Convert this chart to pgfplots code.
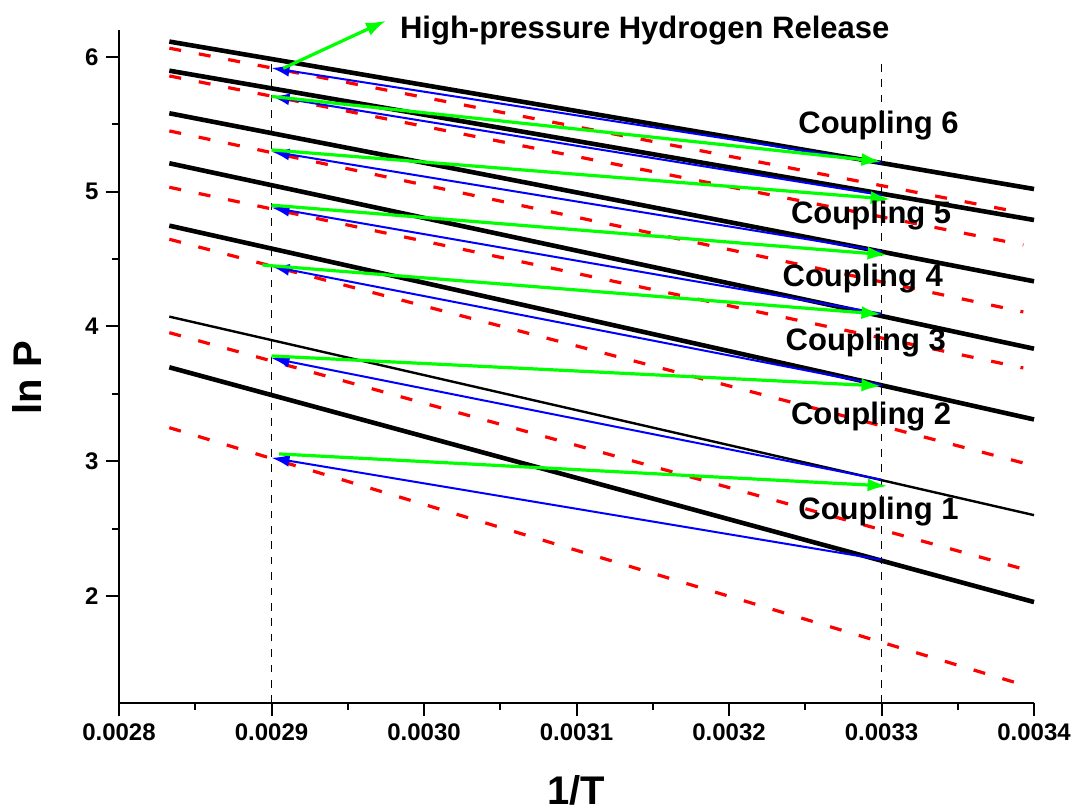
\documentclass[border=0pt]{standalone}
\usepackage{pgfplots}
\pgfplotsset{compat=1.18}
\usepackage{fontspec}
\setmainfont{Liberation Sans}
\usetikzlibrary{arrows.meta}
\definecolor{pgreen}{RGB}{0,255,0}
\definecolor{pred}{RGB}{255,0,0}
\definecolor{pblue}{RGB}{0,0,255}
\begin{document}
\begin{tikzpicture}
\useasboundingbox (-59.5pt,-54.5pt) rectangle (481pt,351.5pt);
\begin{axis}[
  at={(0,0)}, anchor=south west,
  scale only axis, width=457.5pt, height=336.5pt,
  xmin=0.0028, xmax=0.0034, ymin=1.206, ymax=6.2,
  axis x line*=bottom, axis y line*=left,
  axis line style={line width=1pt},
  clip=false,
  scaled x ticks=false,
  xtick={0.0028,0.0029,0.0030,0.0031,0.0032,0.0033,0.0034},
  xticklabels={0.0028,0.0029,0.0030,0.0031,0.0032,0.0033,0.0034},
  ytick={2,3,4,5,6},
  yticklabels={2,3,4,5,6},
  minor x tick num=1, minor y tick num=1,
  tick align=outside,
  major tick length=6.7pt, minor tick length=3.3pt,
  every tick/.style={black, line width=1pt},
  ticklabel style={font=\bfseries\fontsize{12}{14}\selectfont},
  /pgf/number format/assume math mode=true,
  xlabel={1/T}, ylabel={ln P},
  every axis x label/.style={at={(axis description cs:0.5,0)}, anchor=base, yshift=-51pt, font=\bfseries\fontsize{20}{22}\selectfont},
  every axis y label/.style={at={(axis description cs:0,0.483)}, anchor=base, rotate=90, yshift=38.6pt, font=\bfseries\fontsize{20}{22}\selectfont},
]
% vertical guide lines
\addplot[black, line width=0.8pt, dash pattern=on 3.8pt off 3.9pt] coordinates {(0.0029,1.206) (0.0029,5.97)};
\addplot[black, line width=0.8pt, dash pattern=on 3.8pt off 3.9pt] coordinates {(0.0033,1.206) (0.0033,6.0)};
% black lines
\addplot[black, line width=2.3pt] coordinates {(0.002833,6.114) (0.0034,5.020)};
\addplot[black, line width=2.3pt] coordinates {(0.002833,5.898) (0.0034,4.790)};
\addplot[black, line width=2.3pt] coordinates {(0.002833,5.582) (0.0034,4.335)};
\addplot[black, line width=2.3pt] coordinates {(0.002833,5.211) (0.0034,3.835)};
\addplot[black, line width=2.3pt] coordinates {(0.002833,4.748) (0.0034,3.310)};
\addplot[black, line width=1.2pt] coordinates {(0.002833,4.073) (0.0034,2.600)};
\addplot[black, line width=2.3pt] coordinates {(0.002833,3.697) (0.0034,1.955)};
% red dashed lines
\addplot[pred, line width=1.6pt, dash pattern=on 6pt off 9pt] coordinates {(0.002833,6.065) (0.003393,4.842)};
\addplot[pred, line width=1.6pt, dash pattern=on 6pt off 9pt] coordinates {(0.002833,5.859) (0.003393,4.605)};
\addplot[pred, line width=1.6pt, dash pattern=on 6pt off 9pt] coordinates {(0.002833,5.451) (0.003393,4.108)};
\addplot[pred, line width=1.6pt, dash pattern=on 6pt off 9pt] coordinates {(0.002833,5.033) (0.003393,3.692)};
\addplot[pred, line width=1.6pt, dash pattern=on 6pt off 9pt] coordinates {(0.002833,4.647) (0.003393,2.987)};
\addplot[pred, line width=1.6pt, dash pattern=on 6pt off 9pt] coordinates {(0.002833,3.954) (0.003393,2.200)};
\addplot[pred, line width=1.6pt, dash pattern=on 6pt off 9pt] coordinates {(0.002833,3.249) (0.003393,1.340)};
% blue arrows
\pgfplotsset{barrow/.style={pblue, line width=1pt, -{Latex[length=9pt,width=6pt]}}}
\addplot[barrow] coordinates {(0.0033,5.215) (0.0029,5.918)};
\addplot[barrow] coordinates {(0.0033,4.975) (0.0029,5.707)};
\addplot[barrow] coordinates {(0.0033,4.557) (0.0029,5.298)};
\addplot[barrow] coordinates {(0.0033,4.095) (0.0029,4.882)};
\addplot[barrow] coordinates {(0.0033,3.565) (0.0029,4.446)};
\addplot[barrow] coordinates {(0.0033,2.863) (0.0029,3.765)};
\addplot[barrow] coordinates {(0.0033,2.269) (0.0029,3.025)};
% green arrows
\pgfplotsset{garrow/.style={pgreen, line width=1.6pt, -{Latex[length=10pt,width=6.5pt]}}}
\addplot[garrow] coordinates {(0.00290,5.707) (0.00330,5.223)};
\addplot[garrow] coordinates {(0.00290,5.310) (0.003306,4.944)};
\addplot[garrow] coordinates {(0.00290,4.900) (0.003304,4.531)};
\addplot[garrow] coordinates {(0.002894,4.456) (0.00330,4.091)};
\addplot[garrow] coordinates {(0.00290,3.781) (0.00330,3.558)};
\addplot[garrow] coordinates {(0.002905,3.054) (0.003304,2.816)};
\addplot[pgreen, line width=1.6pt, -{Latex[length=10pt,width=7pt]}] coordinates {(0.0029077,5.916) (0.0029751,6.269)};
% labels
\node[anchor=base west, font=\bfseries\fontsize{15.5}{17}\selectfont] at (axis cs:0.0029797,6.139) {High-pressure Hydrogen Release};
\node[anchor=base, font=\bfseries\fontsize{15.5}{17}\selectfont] at (axis cs:0.003298,5.434) {Coupling 6};
\node[anchor=base, font=\bfseries\fontsize{15.5}{17}\selectfont] at (axis cs:0.0032932,4.761) {Coupling 5};
\node[anchor=base, font=\bfseries\fontsize{15.5}{17}\selectfont] at (axis cs:0.0032877,4.295) {Coupling 4};
\node[anchor=base, font=\bfseries\fontsize{15.5}{17}\selectfont] at (axis cs:0.0032897,3.820) {Coupling 3};
\node[anchor=base, font=\bfseries\fontsize{15.5}{17}\selectfont] at (axis cs:0.0032932,3.269) {Coupling 2};
\node[anchor=base, font=\bfseries\fontsize{15.5}{17}\selectfont] at (axis cs:0.003298,2.564) {Coupling 1};
\end{axis}
\end{tikzpicture}
\end{document}
